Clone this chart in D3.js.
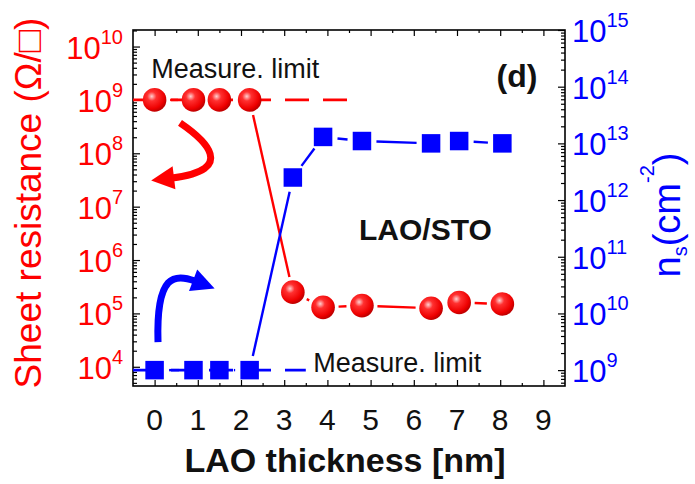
<!DOCTYPE html>
<html>
<head>
<meta charset="utf-8">
<script src="https://cdn.jsdelivr.net/npm/d3@7"></script>
<style>
  body { margin: 0; background: #fff; }
  text { font-family: "Liberation Sans", Arial, sans-serif; }
</style>
</head>
<body>
<script>
// ---------- data ----------
const thickness = [0, 0.9, 1.5, 2.2, 3.2, 3.9, 4.8, 6.4, 7.05, 8.05];
const sheetResistance = [1e9, 1e9, 1e9, 1e9, 2.5e5, 1.3e5, 1.4e5, 1.25e5, 1.6e5, 1.5e5];
const carrierDensity = [1e9, 1e9, 1e9, 1e9, 2.5e12, 1.3e13, 1.1e13, 1.0e13, 1.1e13, 1.0e13];
const xTicks = [0, 1, 2, 3, 4, 5, 6, 7, 8, 9];
const leftTicks = [1e4, 1e5, 1e6, 1e7, 1e8, 1e9, 1e10];
const rightTicks = [1e9, 1e10, 1e11, 1e12, 1e13, 1e14, 1e15];
const resistanceLimit = 1e9, resistanceLimitEnd = 4.5;
const densityLimit = 1e9, densityLimitEnd = 3.5;

// ---------- layout ----------
const W = 695, H = 484;
const L = 133, R = 565, T = 30, B = 386;
const RED = "#ff0000", BLUE = "#0000ff";

const svg = d3.select("body").append("svg").attr("width", W).attr("height", H);
const defs = svg.append("defs");
const grad = defs.append("radialGradient").attr("id", "ball").attr("cx", "38%").attr("cy", "35%").attr("r", "65%");
grad.append("stop").attr("offset", "0%").attr("stop-color", "#ffd0d0");
grad.append("stop").attr("offset", "30%").attr("stop-color", "#ff3030");
grad.append("stop").attr("offset", "80%").attr("stop-color", "#ee0000");
grad.append("stop").attr("offset", "100%").attr("stop-color", "#c00000");

const x = d3.scaleLinear().domain([-0.5, 9.5]).range([L, R]);
const yL = d3.scaleLog().domain([Math.pow(10, 3.64), Math.pow(10, 10.31)]).range([B, T]);
const yR = d3.scaleLog().domain([Math.pow(10, 8.72), Math.pow(10, 15)]).range([B, T]);

function minorLog(scale) {
  const [a, b] = scale.domain();
  const out = [];
  for (let d = Math.floor(Math.log10(a)); d <= Math.ceil(Math.log10(b)); d++) {
    for (let m = 2; m <= 9; m++) {
      const v = m * Math.pow(10, d);
      if (v > a && v < b) out.push(v);
    }
  }
  return out;
}

function styleAxis(g) {
  g.select(".domain").remove();
  g.selectAll(".tick line").attr("stroke", "#000").attr("stroke-width", 1.2);
  g.selectAll(".tick text").remove();
}

// ticks
svg.append("g").attr("transform", `translate(${L},0)`)
  .call(d3.axisLeft(yL).tickValues(leftTicks).tickSizeInner(-7).tickSizeOuter(0)).call(styleAxis);
svg.append("g").attr("transform", `translate(${L},0)`)
  .call(d3.axisLeft(yL).tickValues(minorLog(yL)).tickSizeInner(-4).tickSizeOuter(0)).call(styleAxis);
svg.append("g").attr("transform", `translate(${R},0)`)
  .call(d3.axisRight(yR).tickValues(rightTicks).tickSizeInner(-7).tickSizeOuter(0)).call(styleAxis);
svg.append("g").attr("transform", `translate(${R},0)`)
  .call(d3.axisRight(yR).tickValues(minorLog(yR)).tickSizeInner(-4).tickSizeOuter(0)).call(styleAxis);
const xMinor = xTicks.slice(0, -1).map(v => v + 0.5);
svg.append("g").attr("transform", `translate(0,${B})`)
  .call(d3.axisBottom(x).tickValues(xTicks).tickSizeInner(-6).tickSizeOuter(0)).call(styleAxis);
svg.append("g").attr("transform", `translate(0,${B})`)
  .call(d3.axisBottom(x).tickValues(xMinor).tickSizeInner(-3).tickSizeOuter(0)).call(styleAxis);
svg.append("g").attr("transform", `translate(0,${T})`)
  .call(d3.axisTop(x).tickValues(xTicks).tickSizeInner(-6).tickSizeOuter(0)).call(styleAxis);
svg.append("g").attr("transform", `translate(0,${T})`)
  .call(d3.axisTop(x).tickValues(xMinor).tickSizeInner(-3).tickSizeOuter(0)).call(styleAxis);

// frame
svg.append("rect").attr("x", L).attr("y", T).attr("width", R - L).attr("height", B - T)
  .attr("fill", "none").attr("stroke", "#000").attr("stroke-width", 1.6);

// tick labels
function powLabel(sel, v, color) {
  const e = Math.round(Math.log10(v));
  sel.attr("fill", color).attr("font-size", 31);
  sel.append("tspan").text("10");
  sel.append("tspan").attr("font-size", 20).attr("dy", -15).text(e);
}
leftTicks.forEach(v => {
  svg.append("text").attr("x", L - 10).attr("y", yL(v) + 12).attr("text-anchor", "end")
    .call(powLabel, v, RED);
});
rightTicks.forEach(v => {
  svg.append("text").attr("x", R + 7).attr("y", yR(v) + 12).attr("text-anchor", "start")
    .call(powLabel, v, BLUE);
});
xTicks.forEach(v => {
  svg.append("text").attr("x", x(v)).attr("y", 430).attr("text-anchor", "middle")
    .attr("font-size", 30).attr("fill", "#111").text(v);
});

// axis titles
svg.append("text").attr("x", 345).attr("y", 472).attr("text-anchor", "middle")
  .attr("font-size", 34).attr("font-weight", "bold").attr("fill", "#111").text("LAO thickness [nm]");
svg.append("text").attr("transform", "translate(41,203) rotate(-90)").attr("text-anchor", "middle")
  .attr("font-size", 37).attr("fill", RED).text("Sheet resistance (Ω/□)");
const rt = svg.append("text").attr("transform", "translate(680,215) rotate(-90)").attr("text-anchor", "middle")
  .attr("font-size", 38).attr("fill", BLUE);
rt.append("tspan").text("n");
rt.append("tspan").attr("font-size", 20).attr("dy", 7).text("s");
rt.append("tspan").attr("dy", -7).text("(cm");
rt.append("tspan").attr("font-size", 20).attr("dy", -26).text("-2");
rt.append("tspan").attr("dy", 26).text(")");

// limit lines (dashed)
svg.append("line").attr("x1", x(-0.5)).attr("x2", x(resistanceLimitEnd))
  .attr("y1", yL(resistanceLimit)).attr("y2", yL(resistanceLimit))
  .attr("stroke", RED).attr("stroke-width", 2.6).attr("stroke-dasharray", "24,14");
svg.append("line").attr("x1", x(-0.5)).attr("x2", x(densityLimitEnd))
  .attr("y1", yR(densityLimit)).attr("y2", yR(densityLimit))
  .attr("stroke", BLUE).attr("stroke-width", 2.6).attr("stroke-dasharray", "24,14");

// connecting segments with gap to symbol
function gapSegments(px, py, gap, color, width) {
  for (let i = 0; i < px.length - 1; i++) {
    const x1 = px[i], y1 = py[i], x2 = px[i + 1], y2 = py[i + 1];
    const dx = x2 - x1, dy = y2 - y1, len = Math.hypot(dx, dy);
    if (len <= 2 * gap + 1) continue;
    const ux = dx / len, uy = dy / len;
    svg.append("line")
      .attr("x1", x1 + ux * gap).attr("y1", y1 + uy * gap)
      .attr("x2", x2 - ux * gap).attr("y2", y2 - uy * gap)
      .attr("stroke", color).attr("stroke-width", width);
  }
}
gapSegments(thickness.map(x), sheetResistance.map(yL), 15.5, RED, 2.4);
gapSegments(thickness.map(x), carrierDensity.map(yR), 14.5, BLUE, 2.4);

// markers
const SQ = 18.5;
svg.append("g").selectAll("rect").data(thickness).join("rect")
  .attr("x", (d) => x(d) - SQ / 2).attr("y", (d, i) => yR(carrierDensity[i]) - SQ / 2)
  .attr("width", SQ).attr("height", SQ).attr("fill", BLUE);
svg.append("g").selectAll("circle").data(thickness).join("circle")
  .attr("cx", (d) => x(d)).attr("cy", (d, i) => yL(sheetResistance[i]))
  .attr("r", 11.8).attr("fill", "url(#ball)");

// curved arrows (annotation, in data coords: [thickness, log10 resistance])
function arrow(pts, color) {
  const P = pts.map(p => [x(p[0]), yL(Math.pow(10, p[1]))]);
  const path = d3.path();
  path.moveTo(P[0][0], P[0][1]);
  path.bezierCurveTo(P[1][0], P[1][1], P[2][0], P[2][1], P[3][0], P[3][1]);
  svg.append("path").attr("d", path.toString()).attr("fill", "none")
    .attr("stroke", color).attr("stroke-width", 7).attr("stroke-linecap", "butt");
  const dx = P[3][0] - P[2][0], dy = P[3][1] - P[2][1], len = Math.hypot(dx, dy);
  const ux = dx / len, uy = dy / len, hl = 21, hw = 11.5;
  const bx = P[3][0] - ux * 2, by = P[3][1] - uy * 2;
  const tip = [P[3][0] + ux * hl, P[3][1] + uy * hl];
  svg.append("path").attr("fill", color)
    .attr("d", `M${tip[0]},${tip[1]} L${bx - uy * hw},${by + ux * hw} L${bx + uy * hw},${by - ux * hw} Z`);
}
arrow([[0.588, 8.568], [1.167, 8.249], [1.93, 7.687], [0.403, 7.537]], RED);
arrow([[0.079, 4.464], [0.03, 5.75], [0.472, 5.75], [0.935, 5.607]], BLUE);

// annotations
svg.append("text").attr("x", x(-0.08)).attr("y", yL(resistanceLimit) - 22)
  .attr("font-size", 27).attr("fill", "#111").text("Measure. limit");
svg.append("text").attr("x", x(3.67)).attr("y", yR(densityLimit) + 2)
  .attr("font-size", 27).attr("fill", "#111").text("Measure. limit");
svg.append("text").attr("x", 359).attr("y", 240)
  .attr("font-size", 30).attr("font-weight", "bold").attr("fill", "#111").text("LAO/STO");
svg.append("text").attr("x", 517).attr("y", 87).attr("text-anchor", "middle")
  .attr("font-size", 32).attr("font-weight", "bold").attr("fill", "#111").text("(d)");
</script>
</body>
</html>
